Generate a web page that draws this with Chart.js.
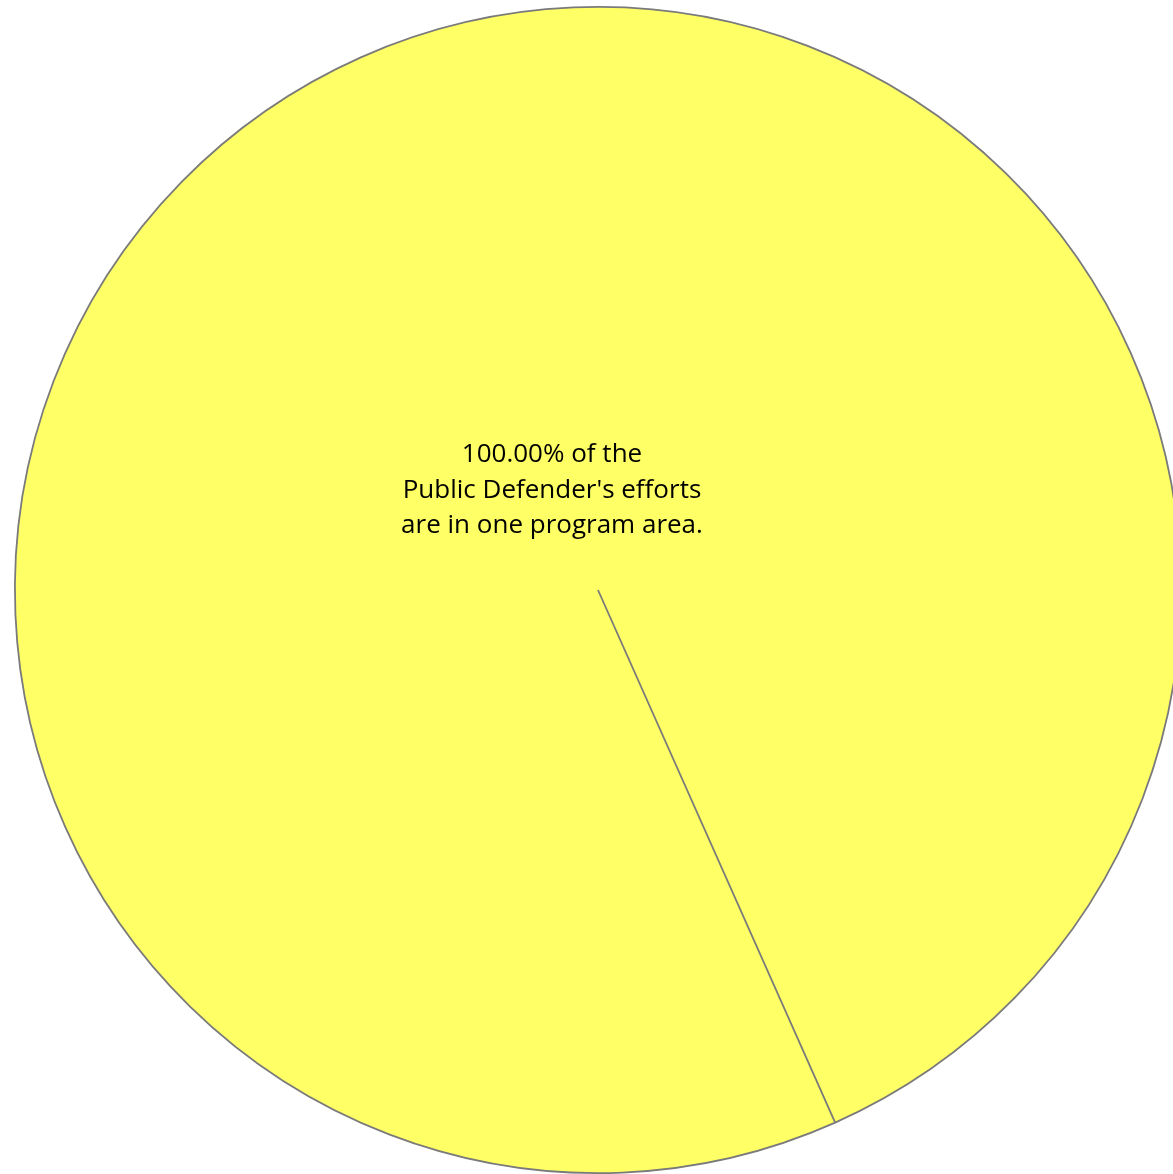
<!DOCTYPE html>
<html>
<head>
<meta charset="utf-8">
<script src="https://cdn.jsdelivr.net/npm/chart.js@4"></script>
<style>
  html, body { margin: 0; padding: 0; background: #ffffff; overflow: hidden; }
  #wrap { width: 1196px; height: 1180px; }
</style>
</head>
<body>
<div id="wrap"><canvas id="pie" width="1196" height="1180"></canvas></div>
<script>
// Program areas and their share of the office's effort
const categories = ['Public Defender'];
const shares = [100];
const captionLines = ["100.00% of the", "Public Defender's efforts", "are in one program area."];

// Caption drawn over the pie, slightly up and left of its centre
const captionPlugin = {
  id: 'caption',
  afterDraw(chart) {
    const ctx = chart.ctx;
    const arc = chart.getDatasetMeta(0).data[0];
    const cx = arc.x - 46;
    const cy = arc.y - 135;
    ctx.save();
    ctx.font = '26px "Open Sans", sans-serif';
    ctx.fillStyle = '#000000';
    ctx.textAlign = 'center';
    ctx.textBaseline = 'middle';
    captionLines.forEach((line, i) => ctx.fillText(line, cx, cy + i * 35.5));
    ctx.restore();
  }
};

new Chart(document.getElementById('pie'), {
  type: 'pie',
  data: {
    labels: categories,
    datasets: [{
      data: shares,
      backgroundColor: '#ffff66',
      borderColor: '#7a7a7a',
      borderWidth: 1.8
    }]
  },
  options: {
    responsive: false,
    animation: false,
    rotation: 156,
    layout: { padding: 6 },
    plugins: {
      legend: { display: false },
      tooltip: { enabled: false }
    }
  },
  plugins: [captionPlugin]
});
</script>
</body>
</html>
